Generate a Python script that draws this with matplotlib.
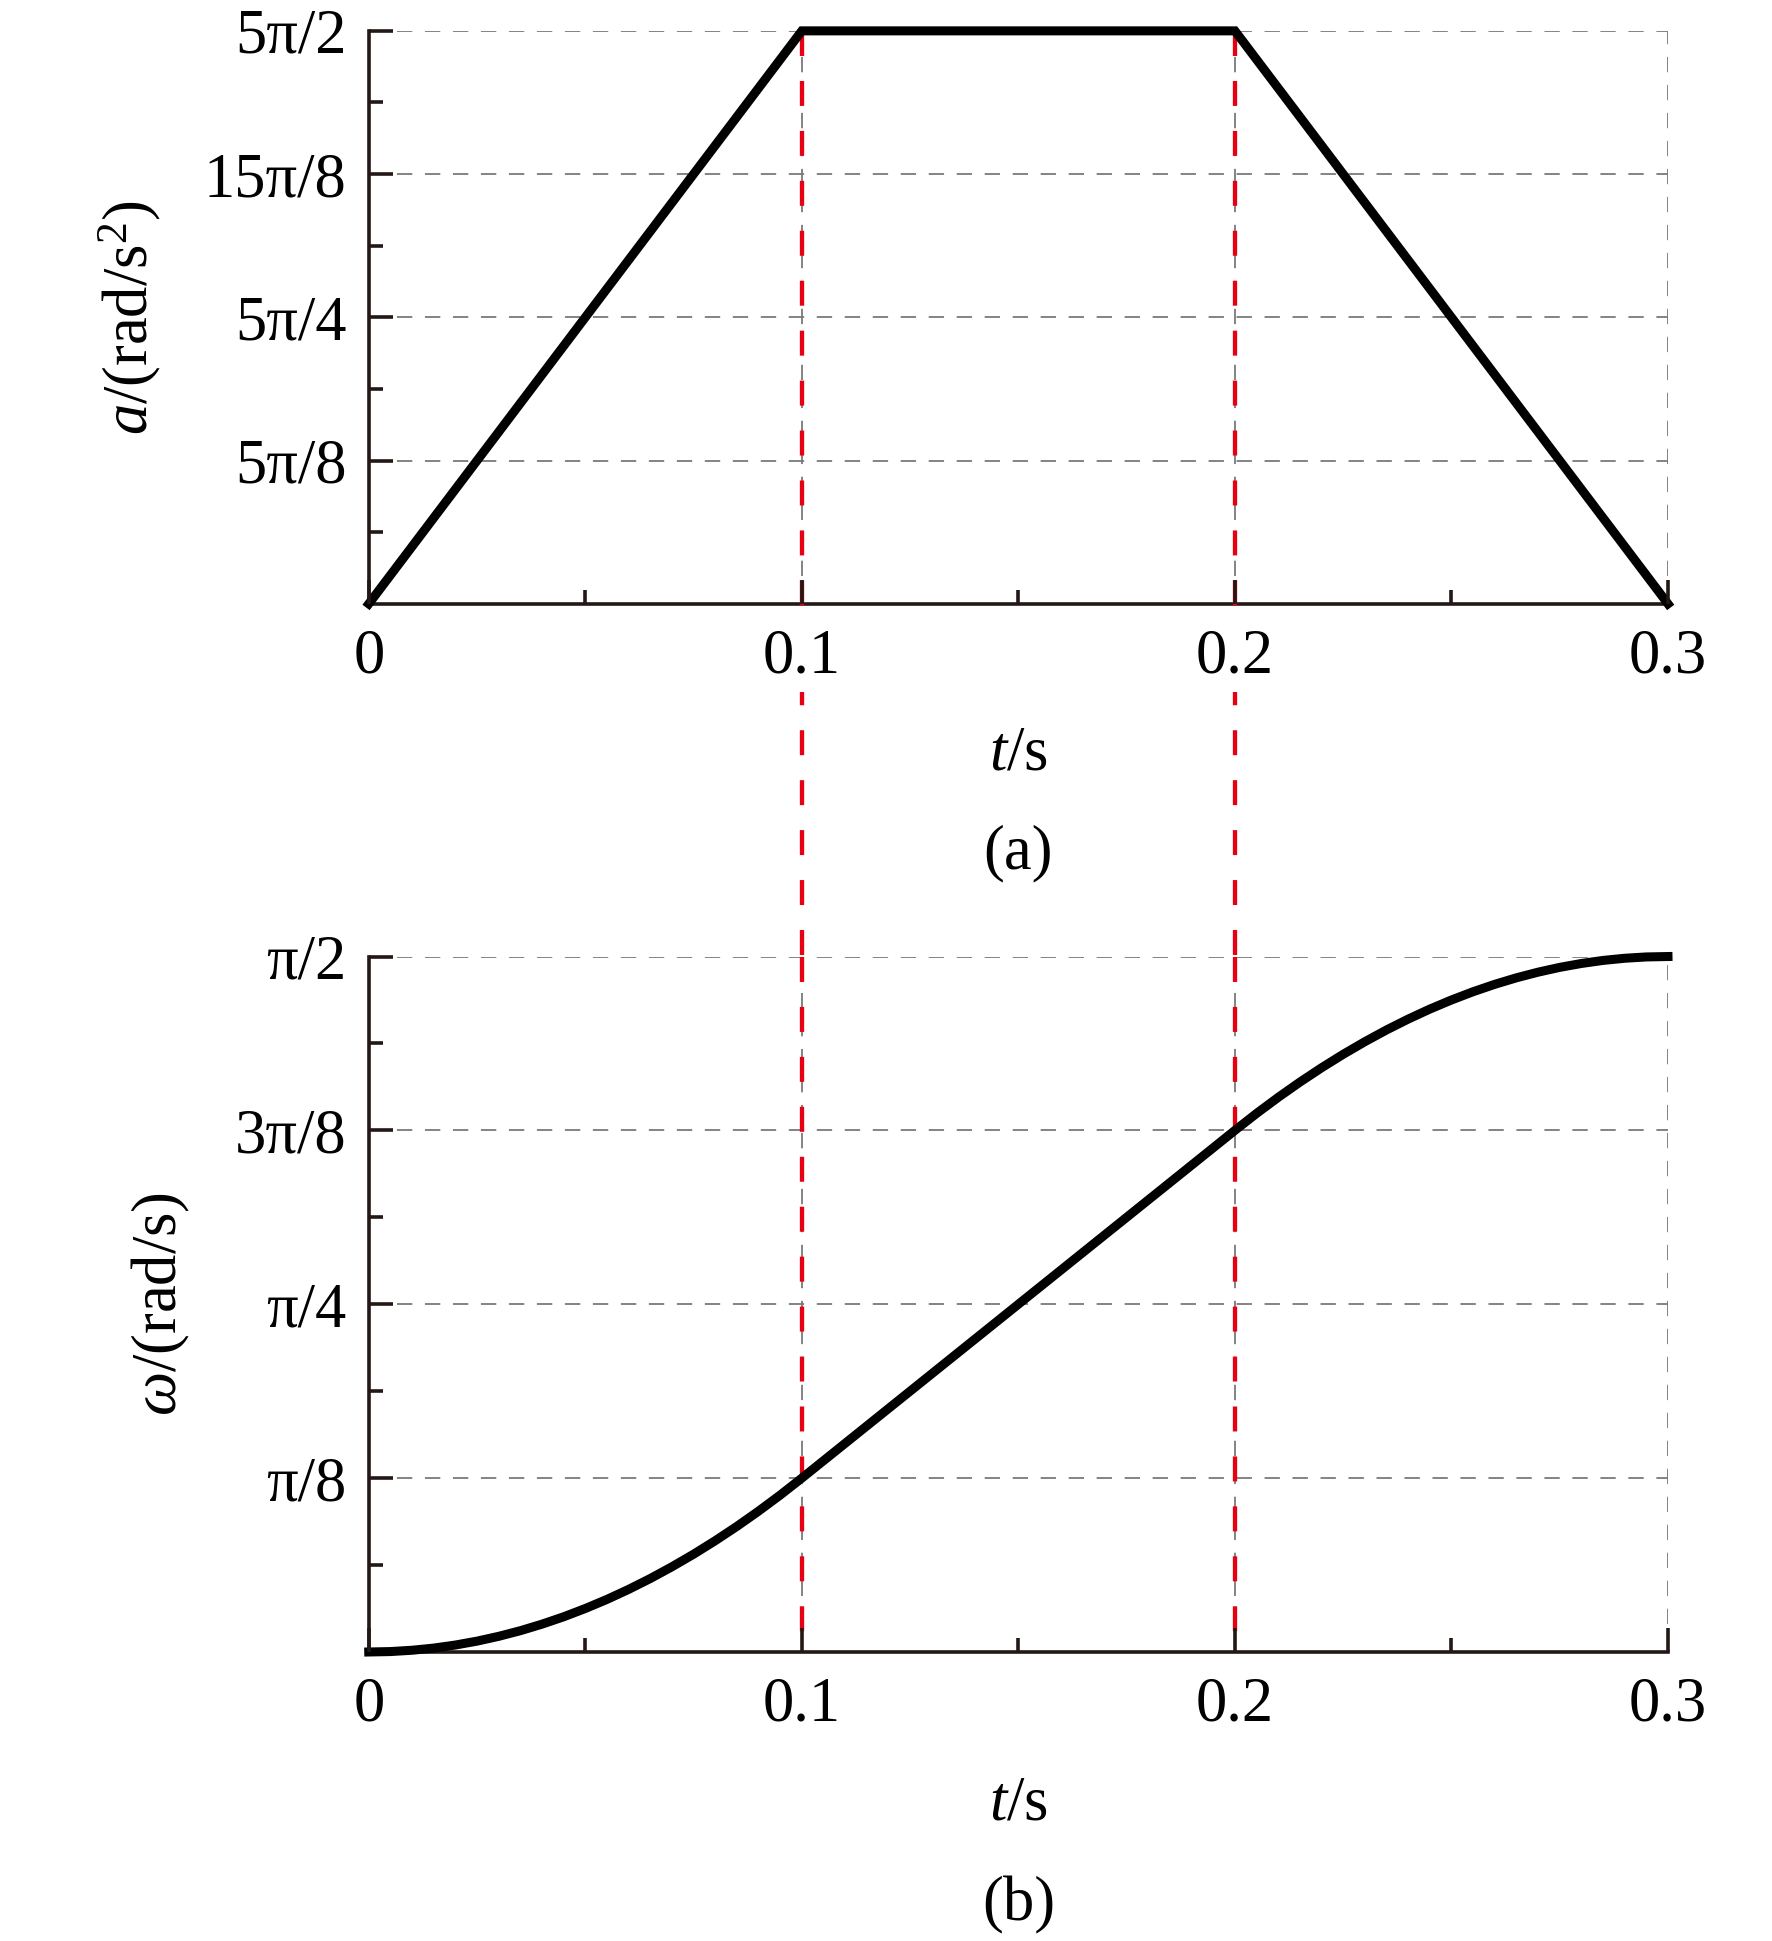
import numpy as np
import matplotlib
matplotlib.use("Agg")
import matplotlib.pyplot as plt
from matplotlib import transforms

plt.rcParams['font.family'] = ['Liberation Serif', 'DejaVu Serif']
plt.rcParams['mathtext.fontset'] = 'custom'
plt.rcParams['mathtext.rm'] = 'Liberation Serif'
plt.rcParams['mathtext.it'] = 'Liberation Serif:italic'

PI = np.pi

# (a) angular acceleration, piecewise linear
t_acc = [0.0, 0.1, 0.2, 0.3]
a_acc = [0.0, 5 * PI / 2, 5 * PI / 2, 0.0]   # rad/s^2

# (b) angular velocity (in units of pi)
t_vel = [0.000, 0.005, 0.010, 0.015, 0.020, 0.025, 0.030, 0.035, 0.040, 0.045,
         0.050, 0.055, 0.060, 0.065, 0.070, 0.075, 0.080, 0.085, 0.090, 0.095,
         0.100, 0.110, 0.120, 0.130, 0.140, 0.150, 0.160, 0.170, 0.180, 0.190,
         0.200, 0.205, 0.210, 0.215, 0.220, 0.225, 0.230, 0.235, 0.240, 0.245,
         0.250, 0.255, 0.260, 0.265, 0.270, 0.275, 0.280, 0.285, 0.290, 0.295, 0.300]
w_vel_pi = [0.0, 0.0003, 0.00125, 0.0028, 0.005, 0.0078, 0.01125, 0.0153, 0.02, 0.0253,
            0.03125, 0.0378, 0.045, 0.0528, 0.06125, 0.0703, 0.08, 0.0903, 0.10125, 0.1128,
            0.125, 0.15, 0.175, 0.2, 0.225, 0.25, 0.275, 0.3, 0.325, 0.35,
            0.375, 0.3872, 0.39875, 0.4097, 0.42, 0.4297, 0.43875, 0.4472, 0.455, 0.4622,
            0.46875, 0.4747, 0.48, 0.4847, 0.48875, 0.4922, 0.495, 0.4972, 0.49875, 0.4997, 0.5]
w_vel = [v * PI for v in w_vel_pi]

x_ticks = [0.0, 0.1, 0.2, 0.3]
x_labels = ['0', '0.1', '0.2', '0.3']
x_minor = [0.05, 0.15, 0.25]

a_ticks = [5 * PI / 8, 5 * PI / 4, 15 * PI / 8, 5 * PI / 2]
a_labels = ['5π/8', '5π/4', '15π/8', '5π/2']
a_minor = [5 * PI / 16, 15 * PI / 16, 25 * PI / 16, 35 * PI / 16]

w_ticks = [PI / 8, PI / 4, 3 * PI / 8, PI / 2]
w_labels = ['π/8', 'π/4', '3π/8', 'π/2']
w_minor = [PI / 16, 3 * PI / 16, 5 * PI / 16, 7 * PI / 16]

markers_t = [0.1, 0.2]   # red dashed guide lines

FS = 45
SPINE = '#231815'
RED = '#e60012'
GRID = '#7a7a7a'

fig = plt.figure(figsize=(17.72, 19.41), dpi=100)
pos1 = [0.2081, 0.6889, 0.7332, 0.2952]
pos2 = [0.2081, 0.1489, 0.7332, 0.3583]
ax1 = fig.add_axes(pos1)
ax2 = fig.add_axes(pos2)


def style(ax, yt, yl, ym, ymax):
    ax.set_xlim(0, 0.3)
    ax.set_ylim(0, ymax)
    ax.set_xticks(x_ticks)
    ax.set_xticklabels(x_labels)
    ax.set_xticks(x_minor, minor=True)
    ax.set_yticks(yt)
    ax.set_yticklabels(yl)
    ax.set_yticks(ym, minor=True)
    for s in ['top', 'right']:
        ax.spines[s].set_visible(False)
    for s in ['left', 'bottom']:
        ax.spines[s].set_color(SPINE)
        ax.spines[s].set_linewidth(2.6)
    ax.tick_params(which='both', direction='in', colors=SPINE, width=2.6,
                   labelsize=FS, labelcolor='black')
    ax.tick_params(which='major', length=17)
    ax.tick_params(which='minor', length=10)
    ax.tick_params(axis='x', pad=18)
    ax.tick_params(axis='y', pad=16)
    # dashed grid drawn by hand so it can sit below the curve and the guides
    for y in yt:
        ax.axhline(y, color=GRID, linestyle=(0, (8.5, 7)), linewidth=1.3, zorder=1)
    for x in x_ticks[1:]:
        ax.axvline(x, color=GRID, linestyle=(0, (8.5, 7)), linewidth=1.3, zorder=1)
    ax.xaxis.set_zorder(5)
    ax.yaxis.set_zorder(5)
    for lab in ax.get_xticklabels():
        lab.set_bbox(dict(facecolor='white', edgecolor='none', pad=4))


ax1.plot(t_acc, a_acc, color='black', linewidth=6.5, zorder=4, clip_on=False,
         solid_joinstyle='miter')
style(ax1, a_ticks, a_labels, a_minor, 5 * PI / 2)

ax2.plot(t_vel, w_vel, color='black', linewidth=6.5, zorder=4, clip_on=False)
style(ax2, w_ticks, w_labels, w_minor, PI / 2)

ax1.set_ylabel(r'$a$/(rad/s$^2$)', fontsize=FS)
ax1.yaxis.label.set_va('center')
ax1.yaxis.set_label_coords(-0.184, 0.5)
ax2.set_ylabel(r'$\omega$/(rad/s)', fontsize=FS)
ax2.yaxis.label.set_va('center')
ax2.yaxis.set_label_coords(-0.16, 0.5)

ax1.text(0.5, -0.263, r'$t$/s', transform=ax1.transAxes, ha='center', va='center', fontsize=FS)
ax1.text(0.5, -0.436, '(a)', transform=ax1.transAxes, ha='center', va='center', fontsize=FS)
ax2.text(0.5, -0.219, r'$t$/s', transform=ax2.transAxes, ha='center', va='center', fontsize=FS)
ax2.text(0.5, -0.365, '(b)', transform=ax2.transAxes, ha='center', va='center', fontsize=FS)

# red dashed guides: from the top of (a) down to the top of (b), then through (b)
red_ls = (0, (5.8, 5.8))
blend1 = transforms.blended_transform_factory(ax1.transData, fig.transFigure)
for tm in markers_t:
    ax1.plot([tm, tm], [pos1[1] + pos1[3], pos2[1] + pos2[3]], transform=blend1,
             color=RED, linewidth=3.1, linestyle=red_ls, zorder=3, clip_on=False)
    ax2.plot([tm, tm], [PI / 2, 0], color=RED, linewidth=3.1, linestyle=red_ls,
             zorder=3, clip_on=False)

fig.savefig('out.png', dpi=100, facecolor='white')
